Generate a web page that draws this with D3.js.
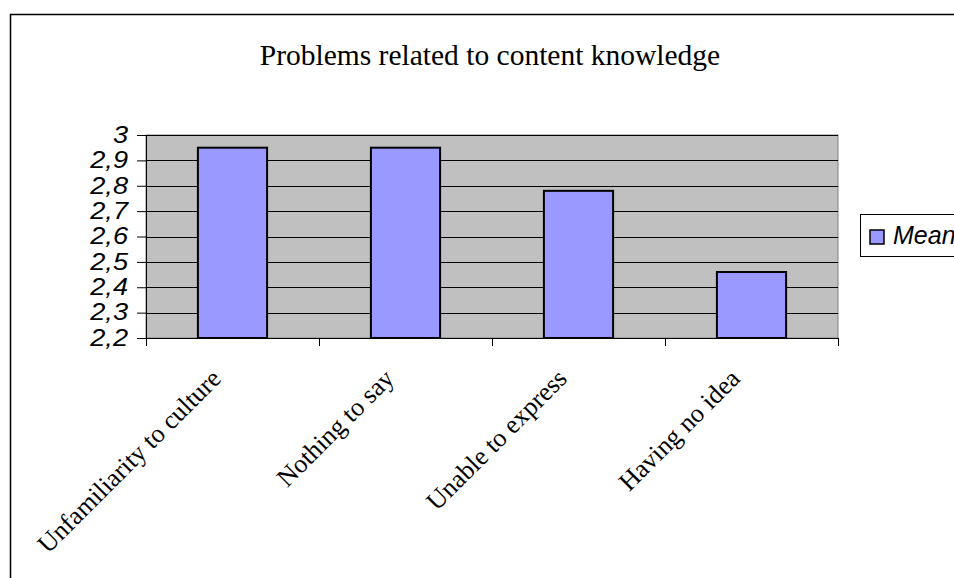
<!DOCTYPE html>
<html>
<head>
<meta charset="utf-8">
<script src="https://cdn.jsdelivr.net/npm/d3@7"></script>
<style>
  html, body { margin: 0; padding: 0; background: #fff; overflow: hidden; }
  svg { display: block; }
</style>
</head>
<body>
<svg id="chart" width="954" height="578"></svg>
<script>
// Mean scores for content-knowledge problems
const categories = ["Unfamiliarity to culture", "Nothing to say", "Unable to express", "Having no idea"];
const meanValues = [2.95, 2.95, 2.78, 2.46];
const yTicks = [2.2, 2.3, 2.4, 2.5, 2.6, 2.7, 2.8, 2.9, 3];
const seriesName = "Mean";
const chartTitle = "Problems related to content knowledge";

const svg = d3.select("#chart");
const W = 954, H = 578;
const plot = { left: 146, right: 838, top: 135, bottom: 338 };

// outer chart frame
svg.append("rect")
  .attr("x", 10.5).attr("y", 14.5)
  .attr("width", W + 20).attr("height", H + 20)
  .attr("fill", "#fff").attr("stroke", "#000").attr("stroke-width", 1.5);

const x = d3.scaleBand().domain(categories).range([plot.left, plot.right]).paddingInner(0).paddingOuter(0);
const y = d3.scaleLinear().domain([2.2, 3]).range([plot.bottom, plot.top]);

// plot area
svg.append("rect")
  .attr("x", plot.left).attr("y", plot.top)
  .attr("width", plot.right - plot.left).attr("height", plot.bottom - plot.top)
  .attr("fill", "#c0c0c0").attr("stroke", "#808080").attr("stroke-width", 1);

// gridlines
svg.append("g").selectAll("line")
  .data(yTicks.filter(t => t > 2.2))
  .join("line")
  .attr("x1", plot.left).attr("x2", plot.right)
  .attr("y1", d => Math.round(y(d)) + 0.5).attr("y2", d => Math.round(y(d)) + 0.5)
  .attr("stroke", "#000").attr("stroke-width", 1);

// bars (gap width 150%)
const barW = x.bandwidth() / 2.5;
svg.append("g").selectAll("rect")
  .data(categories.map((c, i) => ({ c, v: meanValues[i] })))
  .join("rect")
  .attr("x", d => x(d.c) + (x.bandwidth() - barW) / 2)
  .attr("y", d => y(d.v))
  .attr("width", barW)
  .attr("height", d => y(2.2) - y(d.v))
  .attr("fill", "#9999ff").attr("stroke", "#000").attr("stroke-width", 2);

// y axis
const yAxis = d3.axisLeft(y).tickValues(yTicks).tickSize(9).tickPadding(0)
  .tickFormat(d => d3.format(".1~f")(d).replace(".", ","));
const gy = svg.append("g").attr("transform", `translate(${plot.left},0)`).call(yAxis);
gy.select(".domain").attr("stroke", "#000");
gy.selectAll(".tick line").attr("stroke", "#000");
gy.selectAll("text")
  .attr("x", null)
  .attr("transform", "translate(-18,0) scale(1.18,1)")
  .attr("font-family", "'Liberation Sans', Arial, sans-serif")
  .attr("font-style", "italic").attr("font-size", 23).attr("fill", "#000");

// x axis
const gx = svg.append("g").attr("transform", `translate(0,${plot.bottom})`);
gx.append("line").attr("x1", plot.left).attr("x2", plot.right).attr("y1", 0.5).attr("y2", 0.5).attr("stroke", "#000");
gx.selectAll("line.tick")
  .data(d3.range(categories.length + 1))
  .join("line").attr("class", "tick")
  .attr("x1", i => Math.round(plot.left + i * x.bandwidth()) + 0.5)
  .attr("x2", i => Math.round(plot.left + i * x.bandwidth()) + 0.5)
  .attr("y1", 0).attr("y2", 8).attr("stroke", "#000");
gx.selectAll("text")
  .data(categories)
  .join("text")
  .attr("transform", d => `translate(${x(d) + x.bandwidth() / 2 - 10},42) rotate(-45)`)
  .attr("text-anchor", "end")
  .attr("font-family", "'Liberation Serif', 'Times New Roman', serif")
  .attr("font-size", 26).attr("fill", "#000")
  .text(d => d);

// title
svg.append("text")
  .attr("x", 490).attr("y", 65)
  .attr("text-anchor", "middle")
  .attr("font-family", "'Liberation Serif', 'Times New Roman', serif")
  .attr("font-size", 29.5).attr("fill", "#000")
  .text(chartTitle);

// legend
const lg = svg.append("g").attr("transform", "translate(860,214)");
lg.append("rect").attr("x", 0.5).attr("y", 0.5).attr("width", 140).attr("height", 42)
  .attr("fill", "#fff").attr("stroke", "#000");
lg.append("rect").attr("x", 10).attr("y", 16).attr("width", 14).attr("height", 14)
  .attr("fill", "#9999ff").attr("stroke", "#000").attr("stroke-width", 1.5);
lg.append("text").attr("x", 33).attr("y", 29.5)
  .attr("font-family", "'Liberation Sans', Arial, sans-serif")
  .attr("font-style", "italic").attr("font-size", 25).attr("fill", "#000")
  .text(seriesName);
</script>
</body>
</html>
